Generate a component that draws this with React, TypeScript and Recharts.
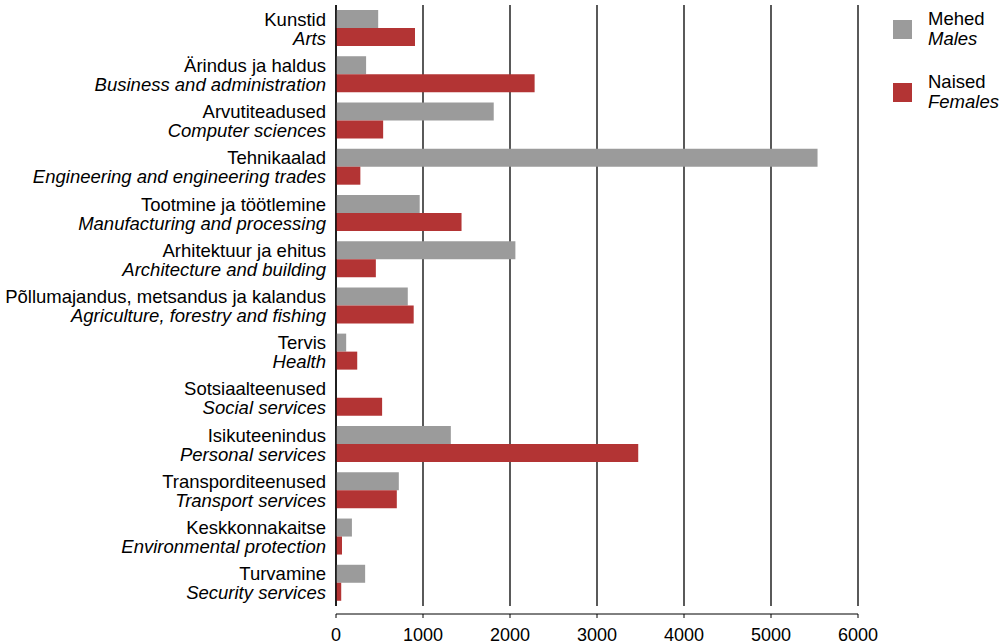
import React from 'react';
import { BarChart, Bar, XAxis, YAxis, CartesianGrid, Legend } from 'recharts';

const categoriesEt = [
  'Kunstid',
  'Ärindus ja haldus',
  'Arvutiteadused',
  'Tehnikaalad',
  'Tootmine ja töötlemine',
  'Arhitektuur ja ehitus',
  'Põllumajandus, metsandus ja kalandus',
  'Tervis',
  'Sotsiaalteenused',
  'Isikuteenindus',
  'Transporditeenused',
  'Keskkonnakaitse',
  'Turvamine',
];

const categoriesEn = [
  'Arts',
  'Business and administration',
  'Computer sciences',
  'Engineering and engineering trades',
  'Manufacturing and processing',
  'Architecture and building',
  'Agriculture, forestry and fishing',
  'Health',
  'Social services',
  'Personal services',
  'Transport services',
  'Environmental protection',
  'Security services',
];

const males = [485, 346, 1813, 5535, 962, 2062, 825, 117, 0, 1320, 722, 183, 335];
const females = [908, 2283, 542, 280, 1443, 458, 893, 244, 530, 3474, 699, 69, 60];

const seriesKeys = ['males', 'females'];
const seriesEt = ['Mehed', 'Naised'];
const seriesEn = ['Males', 'Females'];
const xTicks = [0, 1000, 2000, 3000, 4000, 5000, 6000];

const GREY = '#9b9b9b';
const RED = '#b33434';
const FONT = '"Liberation Sans", Arial, sans-serif';

const data = categoriesEt.map((et, i) => ({
  et,
  en: categoriesEn[i],
  males: males[i],
  females: females[i],
}));

const CategoryTick = (props: any) => {
  const { x, y, payload, index } = props;
  const en = categoriesEn[index] ?? data.find((d) => d.et === payload.value)?.en;
  return (
    <g>
      <text x={x} y={y - 2.5} textAnchor="end" fill="#000" fontSize={18.5} fontFamily={FONT}>
        {payload.value}
      </text>
      <text x={x} y={y + 16.5} textAnchor="end" fill="#000" fontSize={18.5} fontStyle="italic" fontFamily={FONT}>
        {en}
      </text>
    </g>
  );
};

const LegendContent = (props: any) => {
  const items = [...(props.payload || [])].sort(
    (a: any, b: any) => seriesKeys.indexOf(a.dataKey) - seriesKeys.indexOf(b.dataKey)
  );
  return (
    <svg width={109} height={125} style={{ display: 'block' }}>
      {items.map((item: any) => {
        const i = seriesKeys.indexOf(item.dataKey);
        return (
          <g key={item.dataKey} transform={`translate(0, ${i * 63})`}>
            <rect x={0} y={20} width={19} height={19} fill={item.color} />
            <text x={35} y={25} fontSize={18.5} fontFamily={FONT} fill="#000">{seriesEt[i]}</text>
            <text x={35} y={45} fontSize={18.5} fontStyle="italic" fontFamily={FONT} fill="#000">{seriesEn[i]}</text>
          </g>
        );
      })}
    </svg>
  );
};

const App = () => {
  return (
    <div style={{ position: 'absolute', left: 0, top: 0, background: '#fff', fontFamily: FONT }}>
      <BarChart
        width={1002}
        height={644}
        data={data}
        layout="vertical"
        margin={{ top: 5, right: 144, bottom: 0, left: 0 }}
        barGap={0}
      >
        <CartesianGrid horizontal={false} stroke="#000" strokeWidth={1.3} />
        <XAxis
          type="number"
          domain={[0, 6000]}
          ticks={xTicks}
          height={38}
          tickSize={4}
          tickMargin={18}
          axisLine={{ stroke: '#000', transform: 'translate(0, 8)' } as any}
          tickLine={{ stroke: '#000', transform: 'translate(0, 8)' } as any}
          tick={{ fill: '#000', fontSize: 18, fontFamily: FONT }}
          interval={0}
        />
        <YAxis
          type="category"
          dataKey="et"
          width={336}
          tickLine={false}
          tickSize={0}
          tickMargin={10}
          axisLine={{ stroke: '#000', strokeWidth: 1.3 }}
          tick={<CategoryTick />}
          interval={0}
        />
        <Legend
          layout="horizontal"
          verticalAlign="middle"
          align="center"
          content={<LegendContent />}
          wrapperStyle={{ position: 'absolute', left: 893, top: 0, width: 109, height: 125 }}
        />
        <Bar dataKey="males" name={seriesEn[0]} fill={GREY} barSize={18} isAnimationActive={false} />
        <Bar dataKey="females" name={seriesEn[1]} fill={RED} barSize={18} isAnimationActive={false} />
      </BarChart>
    </div>
  );
};

export default App;
